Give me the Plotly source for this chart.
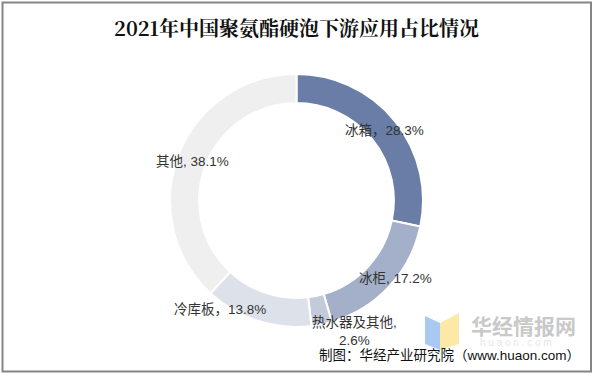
import plotly.graph_objects as go

W, H = 595, 375

title_text = "2021年中国聚氨酯硬泡下游应用占比情况"
categories = ["冰箱", "冰柜", "热水器及其他", "冷库板", "其他"]
shares = [28.3, 17.2, 2.6, 13.8, 38.1]
label_texts = ["冰箱，28.3%", "冰柜, 17.2%", "热水器及其他,<br>2.6%", "冷库板，13.8%", "其他, 38.1%"]
colors = ["#697da6", "#a4b0c9", "#c3cad9", "#dde1ea", "#efefef"]
source_text = "制图：华经产业研究院（www.huaon.com）"

# label anchor positions in pixels (center)
label_pos = [(384, 131), (395, 278), (354, 331), (220, 309), (192, 161)]

def px(x):
    return x / W

def py(y):
    return 1 - y / H

fig = go.Figure()
fig.add_trace(go.Pie(
    labels=categories,
    values=shares,
    sort=False,
    direction="clockwise",
    rotation=0,
    hole=0.77,
    marker=dict(colors=colors, line=dict(color="white", width=2)),
    textinfo="none",
    hoverinfo="label+percent",
    showlegend=False,
    domain=dict(x=[px(170), px(423)], y=[py(327), py(74)]),
))

annotations = []
for t, (x, y) in zip(label_texts, label_pos):
    annotations.append(dict(
        x=px(x), y=py(y), xref="paper", yref="paper", text=t, showarrow=False,
        xanchor="center", yanchor="middle",
        font=dict(family="Arial, Noto Sans CJK SC", size=13.5, color="#333333"),
    ))

annotations.append(dict(
    x=px(296), y=py(28), xref="paper", yref="paper", text=title_text, showarrow=False,
    xanchor="center", yanchor="middle",
    font=dict(family="Noto Serif CJK SC, Noto Sans CJK SC", size=20, color="#111111", weight="bold"),
))

# watermark
annotations.append(dict(
    x=px(469), y=py(325), xref="paper", yref="paper", text="华经情报网", showarrow=False,
    xanchor="left", yanchor="middle",
    font=dict(family="Noto Sans CJK SC", size=21, color="#c9c9c9", weight="bold"),
))
annotations.append(dict(
    x=px(516), y=py(342), xref="paper", yref="paper", text="h u a o n . c o m", showarrow=False,
    xanchor="center", yanchor="middle",
    font=dict(family="Arial", size=10, color="#e6e6e6"),
))

annotations.append(dict(
    x=px(582), y=py(355), xref="paper", yref="paper", text=source_text, showarrow=False,
    xanchor="right", yanchor="middle",
    font=dict(family="Arial, Noto Sans CJK SC", size=13.5, color="#111111"),
))

def path(points):
    s = "M " + " L ".join(f"{px(x)},{py(y)}" for x, y in points) + " Z"
    return s

shapes = [
    dict(type="path", xref="paper", yref="paper",
         path=path([(425, 316), (440, 323), (440, 350), (425, 344)]),
         fillcolor="#a9c8f2", line=dict(width=0), layer="below"),
    dict(type="path", xref="paper", yref="paper",
         path=path([(440, 323), (459, 313), (459, 344), (440, 350)]),
         fillcolor="#fde9a6", line=dict(width=0), layer="below"),
    dict(type="rect", xref="paper", yref="paper",
         x0=px(2.5), x1=px(591), y0=py(371.5), y1=py(2.5),
         line=dict(color="#858585", width=2), fillcolor="rgba(0,0,0,0)"),
]

fig.update_layout(
    width=W, height=H,
    margin=dict(l=0, r=0, t=0, b=0),
    paper_bgcolor="white", plot_bgcolor="white",
    annotations=annotations,
    shapes=shapes,
)

fig.write_html("out.html",
               config={"displayModeBar": False},
               post_script="document.body.style.margin='0';document.body.style.overflow='hidden';")
